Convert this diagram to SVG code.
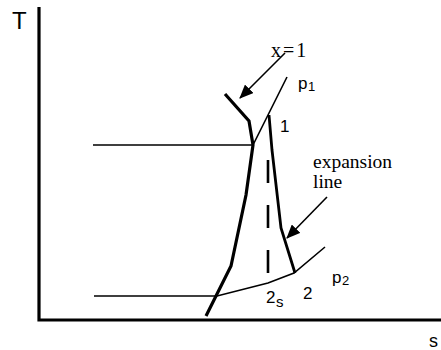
<svg xmlns="http://www.w3.org/2000/svg" width="441" height="350" viewBox="0 0 441 350">
<style>
.thick{fill:none;stroke:#000;stroke-width:3.2;stroke-linejoin:miter}
.thin{fill:none;stroke:#000;stroke-width:1.6}
.sans{font-family:"Liberation Sans",Arial,sans-serif;fill:#000}
.serif{font-family:"Liberation Serif","Times New Roman",serif;fill:#000}
</style>
<defs>
<marker id="ah" markerWidth="14" markerHeight="12" refX="13" refY="6" orient="auto" markerUnits="userSpaceOnUse">
<path d="M0,0 L14,6 L0,12 z" fill="#000"/>
</marker>
</defs>
<rect width="441" height="350" fill="#fff"/>
<g id="axes">
<polyline class="thick" points="39,7 39,320 441,320"/>
<text class="sans" x="12" y="29" font-size="24">T</text>
<text class="sans" x="429" y="347" font-size="18">s</text>
</g>
<g id="saturation-curve">
<polyline class="thick" points="225,94 249,121 253,145 246,195 231,266 206,316"/>
</g>
<g id="isobar-p1">
<polyline class="thin" points="93,145 253,145 287,77"/>
<text class="sans" x="298" y="89" font-size="17">p</text>
<text class="sans" x="308" y="91" font-size="13">1</text>
</g>
<g id="isobar-p2">
<polyline class="thin" points="94,296 217,296 268,283 294,273 325,247"/>
<text class="sans" x="332" y="283" font-size="17">p</text>
<text class="sans" x="342" y="285" font-size="13">2</text>
</g>
<g id="expansion">
<polyline class="thick" points="269,115 272,150 281,228 295,273" style="stroke-width:2.8"/>
<line x1="268" y1="160" x2="268" y2="276" stroke="#000" stroke-width="2.6" stroke-dasharray="23,22"/>
</g>
<g id="labels">
<text class="sans" x="280" y="132" font-size="17">1</text>
<text class="sans" x="303" y="299" font-size="17">2</text>
<text class="sans" x="266" y="303" font-size="17">2</text>
<text class="sans" x="276" y="307" font-size="15">s</text>
<text class="serif" x="271" y="57" font-size="20" letter-spacing="2">x=1</text>
<text class="serif" x="313" y="168" font-size="19.5">expansion</text>
<text class="serif" x="313" y="188" font-size="19.5">line</text>
</g>
<g id="connectors">
<line x1="285" y1="53" x2="240" y2="98" class="thin" marker-end="url(#ah)"/>
<line x1="327" y1="197" x2="287" y2="238" class="thin" marker-end="url(#ah)"/>
</g>
</svg>
